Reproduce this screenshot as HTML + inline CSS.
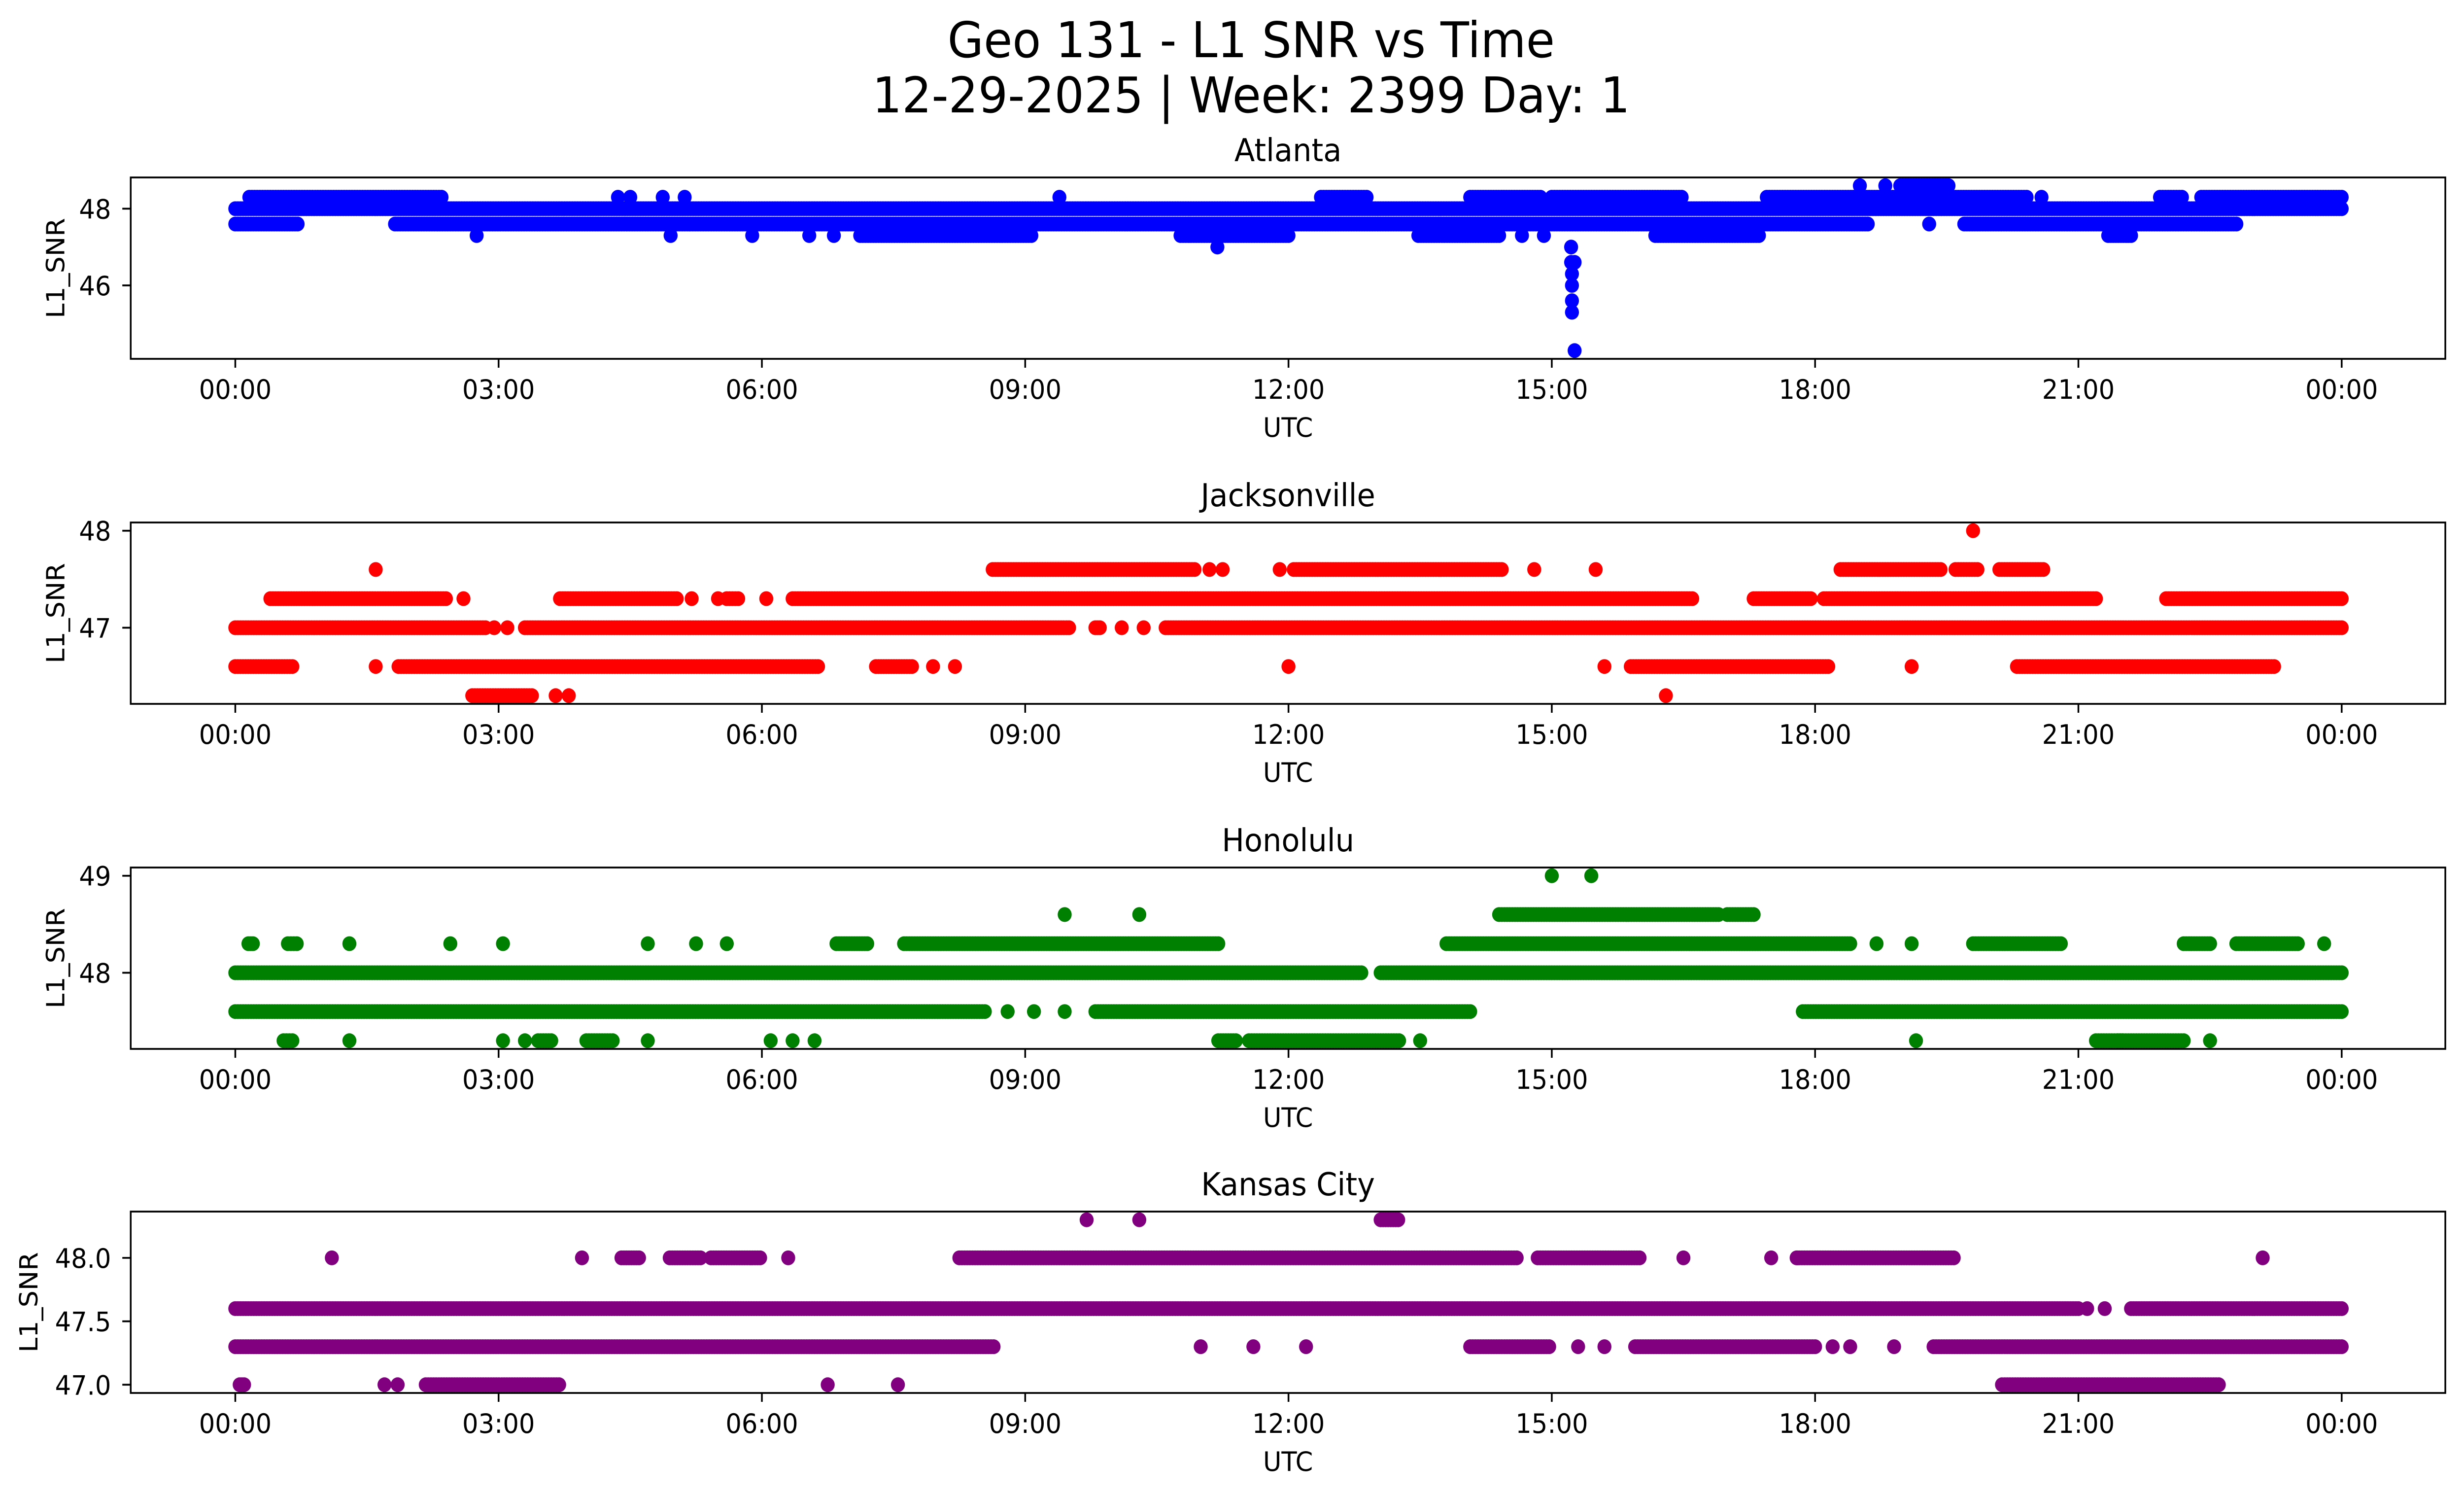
<!DOCTYPE html>
<html><head><meta charset="utf-8"><style>
html,body{margin:0;padding:0;background:#fff;overflow:hidden;width:100%;height:100%}
svg{display:block;position:absolute;left:0;top:0;width:100vw;height:100vh;font-family:"DejaVu Sans","Liberation Sans",sans-serif}
</style></head><body>
<svg id="fig" viewBox="0 0 5278 3033" preserveAspectRatio="none" xmlns="http://www.w3.org/2000/svg">
<rect width="5278" height="3033" fill="#fff"/>
<text x="2680" y="116" font-size="100" text-anchor="middle">Geo 131 - L1 SNR vs Time</text>
<text x="2680" y="228" font-size="100" text-anchor="middle">12-29-2025 | Week: 2399 Day: 1</text>
<g id="plots"></g>
</svg>
<script>
// Shared x ticks (hours) and labels
const xTickHours = [0,3,6,9,12,15,18,21,24];
const xTickLabels = ["00:00","03:00","06:00","09:00","12:00","15:00","18:00","21:00","00:00"];
// Panel names / colours / y ticks / y limits
const panelNames = ["Atlanta","Jacksonville","Honolulu","Kansas City"];
const panelColors = ["#0000ff","#ff0000","#008000","#800080"];
const yTicksAtl = [46,48];
const yTicksJax = [47,48];
const yTicksHnl = [48,49];
const yTicksKc = [47.0,47.5,48.0];
const yTickLabelsAtl = ["46","48"];
const yTickLabelsJax = ["47","48"];
const yTickLabelsHnl = ["48","49"];
const yTickLabelsKc = ["47.0","47.5","48.0"];
const yLimAtl = [44.085,48.815];
const yLimJax = [46.215,48.085];
const yLimHnl = [47.215,49.085];
const yLimKc = [46.935,48.365];
// Observation runs: [startHour, endHour, SNR] (single points have start==end)
const runsAtl = [
 [0,24,48.0],
 [0,0.71,47.6],[1.82,18.6,47.6],[19.3,19.3,47.6],[19.7,22.8,47.6],
 [0.16,2.35,48.3],[4.36,4.36,48.3],[4.5,4.5,48.3],[4.87,4.87,48.3],[5.12,5.12,48.3],[9.39,9.39,48.3],
 [12.37,12.89,48.3],[14.07,14.87,48.3],[15.0,16.48,48.3],[17.45,20.41,48.3],[20.58,20.58,48.3],
 [21.93,22.18,48.3],[22.4,24,48.3],
 [18.51,18.51,48.6],[18.8,18.8,48.6],[18.97,19.52,48.6],
 [2.75,2.75,47.3],[4.96,4.96,47.3],[5.89,5.89,47.3],[6.54,6.54,47.3],[6.82,6.82,47.3],[7.12,9.07,47.3],
 [10.77,12.0,47.3],[13.48,14.4,47.3],[14.66,14.66,47.3],[14.91,14.91,47.3],[16.18,17.36,47.3],[21.34,21.6,47.3],
 [11.19,11.19,47.0],[15.22,15.22,47.0],[15.22,15.26,46.6],[15.23,15.23,46.3],[15.23,15.23,46.0],
 [15.23,15.23,45.6],[15.23,15.23,45.3],[15.26,15.26,44.3]
];
const runsJax = [
 [0,2.85,47.0],[2.95,2.95,47.0],[3.1,3.1,47.0],[3.3,9.5,47.0],[9.8,9.85,47.0],[10.1,10.1,47.0],[10.35,10.35,47.0],[10.6,24,47.0],
 [0.4,2.4,47.3],[2.6,2.6,47.3],[3.7,5.03,47.3],[5.2,5.2,47.3],[5.5,5.5,47.3],[5.6,5.73,47.3],[6.05,6.05,47.3],
 [6.35,16.6,47.3],[17.3,17.95,47.3],[18.1,21.2,47.3],[22.0,24,47.3],
 [1.6,1.6,47.6],[8.63,10.93,47.6],[11.1,11.1,47.6],[11.25,11.25,47.6],[11.9,11.9,47.6],[12.06,14.43,47.6],
 [14.8,14.8,47.6],[15.5,15.5,47.6],[18.29,19.43,47.6],[19.6,19.85,47.6],[20.1,20.6,47.6],
 [19.8,19.8,48.0],
 [0,0.65,46.6],[1.6,1.6,46.6],[1.86,6.64,46.6],[7.3,7.71,46.6],[7.95,7.95,46.6],[8.2,8.2,46.6],[12.0,12.0,46.6],
 [15.6,15.6,46.6],[15.9,18.15,46.6],[19.1,19.1,46.6],[20.3,23.23,46.6],
 [2.7,3.38,46.3],[3.65,3.65,46.3],[3.8,3.8,46.3],[16.3,16.3,46.3]
];
const runsHnl = [
 [0,12.83,48.0],[13.05,24,48.0],
 [0,8.54,47.6],[8.8,8.8,47.6],[9.1,9.1,47.6],[9.45,9.45,47.6],[9.8,14.07,47.6],[17.86,24,47.6],
 [0.15,0.2,48.3],[0.6,0.7,48.3],[1.3,1.3,48.3],[2.45,2.45,48.3],[3.05,3.05,48.3],[4.7,4.7,48.3],[5.25,5.25,48.3],
 [5.6,5.6,48.3],[6.85,7.2,48.3],[7.62,11.2,48.3],[13.8,18.4,48.3],[18.7,18.7,48.3],[19.1,19.1,48.3],[19.8,20.8,48.3],
 [22.2,22.5,48.3],[22.8,23.5,48.3],[23.8,23.8,48.3],
 [9.45,9.45,48.6],[10.3,10.3,48.6],[14.4,16.9,48.6],[17.0,17.3,48.6],
 [15.0,15.0,49.0],[15.45,15.45,49.0],
 [0.55,0.65,47.3],[1.3,1.3,47.3],[3.05,3.05,47.3],[3.3,3.3,47.3],[3.45,3.6,47.3],[4.0,4.3,47.3],[4.7,4.7,47.3],
 [6.1,6.1,47.3],[6.35,6.35,47.3],[6.6,6.6,47.3],[11.2,11.4,47.3],[11.55,13.26,47.3],[13.5,13.5,47.3],
 [19.15,19.15,47.3],[21.2,21.5,47.3],[21.45,22.2,47.3],[22.5,22.5,47.3]
];
const runsKc = [
 [0,21.0,47.6],[21.1,21.1,47.6],[21.3,21.3,47.6],[21.6,24,47.6],
 [0,8.64,47.3],[11.0,11.0,47.3],[11.6,11.6,47.3],[12.2,12.2,47.3],[14.07,14.97,47.3],[15.3,15.3,47.3],[15.6,15.6,47.3],
 [15.95,18.0,47.3],[18.2,18.2,47.3],[18.4,18.4,47.3],[18.9,18.9,47.3],[19.35,24,47.3],
 [1.1,1.1,48.0],[3.95,3.95,48.0],[4.4,4.6,48.0],[4.95,5.3,48.0],[5.42,5.98,48.0],[6.3,6.3,48.0],[8.25,14.6,48.0],
 [14.84,16.0,48.0],[16.5,16.5,48.0],[17.5,17.5,48.0],[17.8,17.8,48.0],[17.79,19.58,48.0],[23.1,23.1,48.0],
 [9.7,9.7,48.3],[10.3,10.3,48.3],[13.05,13.25,48.3],
 [0.05,0.1,47.0],[1.7,1.7,47.0],[1.85,1.85,47.0],[2.17,3.69,47.0],[6.75,6.75,47.0],[7.55,7.55,47.0],[20.13,22.6,47.0]
];

const NS="http://www.w3.org/2000/svg";
const AX_L=280, AX_R=5238, AX_H=368, TOP0=360, GAP=700;
const X0=504, PXH=188.0;
function xScale(h){return X0+h*PXH;}
function mk(tag,attrs){const e=document.createElementNS(NS,tag);for(const k in attrs)e.setAttribute(k,attrs[k]);return e;}
const plots=document.getElementById('plots');
const allRuns=[runsAtl,runsJax,runsHnl,runsKc];
const allTicks=[yTicksAtl,yTicksJax,yTicksHnl,yTicksKc];
const allTickLabels=[yTickLabelsAtl,yTickLabelsJax,yTickLabelsHnl,yTickLabelsKc];
const allLims=[yLimAtl,yLimJax,yLimHnl,yLimKc];

for(let p=0;p<4;p++){
  const top=TOP0+p*GAP-(p===3?2:0), bot=top+AX_H;
  const lim=allLims[p];
  const yScale=v=>bot-(v-lim[0])/(lim[1]-lim[0])*AX_H;
  const g=mk('g',{});
  
  
  plots.appendChild(g);
  const clipId='clip'+p;
  const cp=mk('clipPath',{id:clipId});
  cp.appendChild(mk('rect',{x:AX_L,y:top,width:AX_R-AX_L,height:AX_H}));
  g.appendChild(cp);
  const pts=mk('g',{fill:panelColors[p],'clip-path':'url(#'+clipId+')'});
  
  
  g.appendChild(pts);
  for(const r of allRuns[p]){
    const step=0.03;
    const n=Math.max(0,Math.round((r[1]-r[0])/step));
    for(let i=0;i<=n;i++){
      const h=n===0?r[0]:r[0]+(r[1]-r[0])*i/n;
      const c=mk('circle',{cx:xScale(h).toFixed(1),cy:yScale(r[2]).toFixed(1),r:15});
      
      
      pts.appendChild(c);
    }
  }
  const frame=mk('rect',{x:AX_L,y:top,width:AX_R-AX_L,height:AX_H,fill:'none',stroke:'#000','stroke-width':3.7});
  
  
  g.appendChild(frame);
  xTickHours.forEach((h,i)=>{
    const x=xScale(h);
    const t=mk('line',{x1:x,x2:x,y1:bot,y2:bot+18,stroke:'#000','stroke-width':3.7});
    
    
    g.appendChild(t);
    const tx=mk('text',{x:x,y:bot+81,'font-size':54,'text-anchor':'middle'});
    tx.textContent=xTickLabels[i];
    
    
    g.appendChild(tx);
  });
  allTicks[p].forEach((v,i)=>{
    const y=yScale(v);
    const t=mk('line',{x1:AX_L-18,x2:AX_L,y1:y,y2:y,stroke:'#000','stroke-width':3.7});
    
    
    g.appendChild(t);
    const tx=mk('text',{x:AX_L-42,y:y+20,'font-size':54,'text-anchor':'end'});
    tx.textContent=allTickLabels[p][i];
    
    
    g.appendChild(tx);
  });
  const xl=mk('text',{x:(AX_L+AX_R)/2,y:bot+158,'font-size':54,'text-anchor':'middle'});
  xl.textContent='UTC';
  
  
  g.appendChild(xl);
  const yl=mk('text',{x:0,y:0,'font-size':54,'text-anchor':'middle',transform:'translate('+(p===3?80:138)+','+((top+bot)/2)+') rotate(-90)'});
  yl.textContent='L1_SNR';
  
  
  g.appendChild(yl);
  const tt=mk('text',{x:(AX_L+AX_R)/2,y:top-33,'font-size':64,'text-anchor':'middle'});
  tt.textContent=panelNames[p];
  
  
  g.appendChild(tt);
}
</script>
</body></html>
